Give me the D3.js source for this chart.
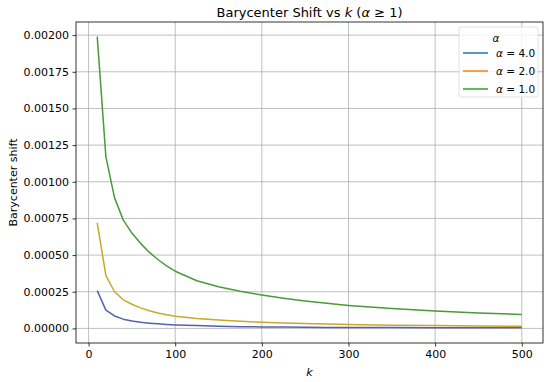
<!DOCTYPE html>
<html>
<head>
<meta charset="utf-8">
<script src="https://cdn.jsdelivr.net/npm/d3@7"></script>
<style>
  body { margin: 0; background: #fff; }
  svg text { font-family: "DejaVu Sans", sans-serif; }
</style>
</head>
<body>
<div id="chart"></div>
<script>
"use strict";

const kValues = [10, 20, 30, 40, 50, 60, 70, 80, 90, 100, 125, 150, 175, 200, 225, 250, 275, 300, 350, 400, 450, 500];
const shiftAlpha4 = [0.000258, 0.000125, 0.000085, 0.000063, 0.000051, 0.000042, 0.000036, 0.000031, 0.000027, 0.000024,
  0.000019, 0.000015, 0.000012, 0.00001, 0.000009, 0.000008, 0.000007, 0.0000065, 0.0000055, 0.0000048, 0.0000042, 0.0000038];
const shiftAlpha2 = [0.00072, 0.00036, 0.00025, 0.000195, 0.000165, 0.00014, 0.00012, 0.000105, 0.000093, 0.000083,
  0.000068, 0.000057, 0.000049, 0.000042, 0.000037, 0.000033, 0.00003, 0.000027, 0.000022, 0.000019, 0.000016, 0.000014];
const shiftAlpha1 = [0.00199, 0.00117, 0.00089, 0.00074, 0.00065, 0.00058, 0.00052, 0.00047, 0.000427, 0.00039,
  0.000325, 0.000284, 0.000253, 0.000228, 0.000206, 0.000187, 0.000171, 0.000157, 0.000135, 0.000118, 0.000105, 0.000095];
const seriesLabels = ["4.0", "2.0", "1.0"];
const xTicks = [0, 100, 200, 300, 400, 500];
const yTicks = [0, 0.00025, 0.0005, 0.00075, 0.001, 0.00125, 0.0015, 0.00175, 0.002];

const series = [
  { label: seriesLabels[0], values: shiftAlpha4, color: "#5560b0", legend: "#1f77b4" },
  { label: seriesLabels[1], values: shiftAlpha2, color: "#c9a82a", legend: "#ff7f0e" },
  { label: seriesLabels[2], values: shiftAlpha1, color: "#4a9a38", legend: "#2ca02c" },
];

const W = 550, H = 382;
const margin = { top: 22, right: 7, bottom: 39, left: 76 };
const width = W - margin.left - margin.right,
  height = H - margin.top - margin.bottom;

const svg = d3.select("#chart").append("svg")
  .attr("width", W).attr("height", H);

const g = svg.append("g")
  .attr("transform", "translate(" + margin.left + "," + margin.top + ")");

const x = d3.scaleLinear().domain([-14.5, 524.5]).range([0, width]);
const yMax = d3.max(shiftAlpha1);
const pad = yMax * 0.05;
const y = d3.scaleLinear().domain([-pad, yMax + pad]).range([height, 0]);

// grid
g.append("g").selectAll("line").data(xTicks).enter().append("line")
  .attr("x1", d => x(d)).attr("x2", d => x(d))
  .attr("y1", 0).attr("y2", height)
  .attr("stroke", "#b0b0b0").attr("stroke-width", 0.8);
g.append("g").selectAll("line").data(yTicks).enter().append("line")
  .attr("y1", d => y(d)).attr("y2", d => y(d))
  .attr("x1", 0).attr("x2", width)
  .attr("stroke", "#b0b0b0").attr("stroke-width", 0.8);

// lines
const line = d3.line()
  .x((d, i) => x(kValues[i]))
  .y(d => y(d));

series.forEach(s => {
  g.append("path")
    .datum(s.values)
    .attr("fill", "none")
    .attr("stroke", s.color)
    .attr("stroke-width", 1.5)
    .attr("stroke-linejoin", "round")
    .attr("d", line);
});

// axes
const xAxis = d3.axisBottom(x).tickValues(xTicks).tickSize(3.5).tickPadding(3.5)
  .tickFormat(d3.format("d"));
const yAxis = d3.axisLeft(y).tickValues(yTicks).tickSize(3.5).tickPadding(3.5)
  .tickFormat(d3.format(".5f"));

const gx = g.append("g").attr("transform", "translate(0," + height + ")").call(xAxis);
const gy = g.append("g").call(yAxis);
[gx, gy].forEach(a => {
  a.select(".domain").remove();
  a.selectAll(".tick line").attr("stroke", "#000").attr("stroke-width", 0.8);
  a.selectAll(".tick text").attr("fill", "#000").style("font-size", "11px")
    .style("font-family", "DejaVu Sans");
});

// frame
g.append("rect")
  .attr("width", width).attr("height", height)
  .attr("fill", "none").attr("stroke", "#000").attr("stroke-width", 0.8);

// title
const title = svg.append("text")
  .attr("x", margin.left + width / 2).attr("y", 17)
  .attr("text-anchor", "middle").style("font-size", "13px");
title.append("tspan").text("Barycenter Shift vs ");
title.append("tspan").attr("font-style", "italic").text("k");
title.append("tspan").text(" (");
title.append("tspan").attr("font-style", "italic").text("α");
title.append("tspan").text(" ≥ 1)");

// axis labels
svg.append("text")
  .attr("x", margin.left + width / 2).attr("y", 376)
  .attr("text-anchor", "middle").attr("font-style", "italic")
  .style("font-size", "11px").text("k");
svg.append("text")
  .attr("transform", "translate(17," + (margin.top + height / 2) + ") rotate(-90)")
  .attr("text-anchor", "middle")
  .style("font-size", "11px").text("Barycenter shift");

// legend
const lg = svg.append("g").attr("transform", "translate(459,27)");
lg.append("rect")
  .attr("width", 79).attr("height", 70).attr("rx", 2)
  .attr("fill", "#fff").attr("fill-opacity", 0.8)
  .attr("stroke", "#d9d9d9").attr("stroke-width", 0.8);
lg.append("text")
  .attr("x", 37).attr("y", 15).attr("text-anchor", "middle")
  .attr("font-style", "italic").style("font-size", "10.5px").text("α");
series.forEach((s, i) => {
  const yy = 26 + i * 18;
  lg.append("line")
    .attr("x1", 4).attr("x2", 29).attr("y1", yy).attr("y2", yy)
    .attr("stroke", s.legend).attr("stroke-width", 1.5);
  const t = lg.append("text").attr("x", 37).attr("y", yy + 4).style("font-size", "10.5px");
  t.append("tspan").attr("font-style", "italic").text("α");
  t.append("tspan").text(" = " + s.label);
});
</script>
</body>
</html>
